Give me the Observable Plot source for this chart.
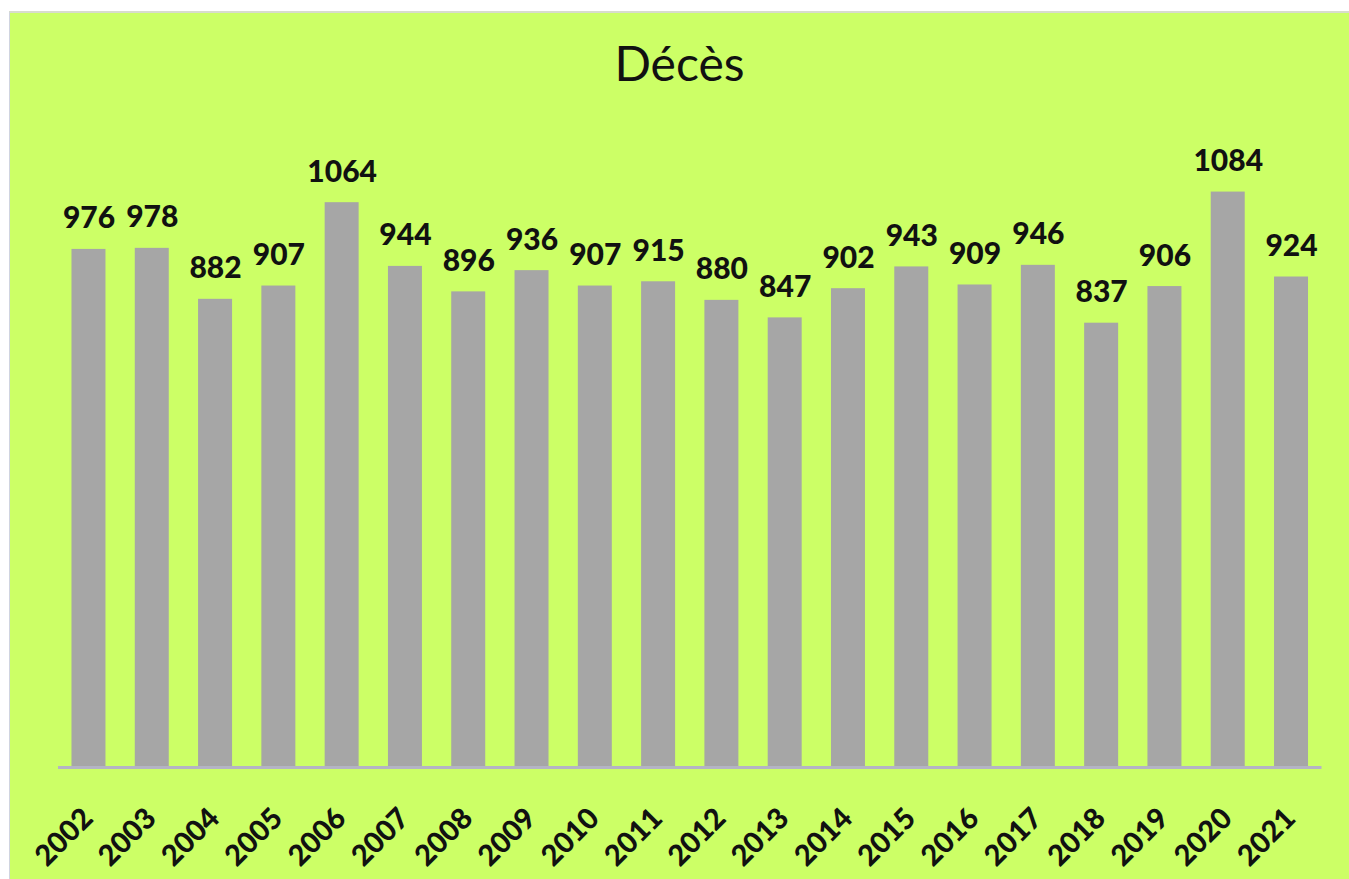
<!DOCTYPE html>
<html>
<head>
<meta charset="utf-8">
<script src="https://cdn.jsdelivr.net/npm/d3@7"></script>
<script src="https://cdn.jsdelivr.net/npm/@observablehq/plot@0.6"></script>
<style>
  html, body { margin: 0; padding: 0; background: #ffffff; width: 1349px; height: 879px; overflow: hidden; }
  #frame { position: absolute; left: 9px; top: 11px; width: 1340px; height: 868px; background: #ccff66; border-left: 1px solid #d0d4e0; border-top: 2px solid #d8dccc; box-sizing: border-box; }
  #title { height: 100px; line-height: 100px; text-align: center; font-family: Lato, sans-serif; font-size: 48px; color: #111; }
  #chart svg { display: block; background: transparent; }
</style>
</head>
<body>
<div id="frame">
  <div id="title">Décès</div>
  <div id="chart"></div>
</div>
<script>
const years = ["2002","2003","2004","2005","2006","2007","2008","2009","2010","2011","2012","2013","2014","2015","2016","2017","2018","2019","2020","2021"];
const deaths = [976, 978, 882, 907, 1064, 944, 896, 936, 907, 915, 880, 847, 902, 943, 909, 946, 837, 906, 1084, 924];

const data = years.map((y, i) => ({year: y, value: deaths[i]}));

const chart = Plot.plot({
  width: 1339,
  height: 766,
  marginLeft: 48,
  marginRight: 27.5,
  marginTop: 17,
  marginBottom: 112,
  style: {background: "transparent", fontFamily: "Lato, sans-serif", color: "#111"},
  x: {domain: years, paddingInner: 0.463, paddingOuter: 0.213, round: false, axis: null},
  y: {domain: [0, 1200], axis: null},
  marks: [
    Plot.barY(data, {x: "year", y: "value", fill: "#a6a6a6"}),
    Plot.ruleY([0], {stroke: "#b4b4c4", strokeWidth: 3}),
    Plot.text(data, {x: "year", y: "value", text: d => String(d.value), dy: -21, lineAnchor: "bottom", fontSize: 30, fontWeight: 900, fill: "#111"}),
    Plot.text(data, {x: "year", y: () => 0, text: "year", rotate: -45, textAnchor: "end", lineAnchor: "middle", dx: -1, dy: 46, fontSize: 29, fontWeight: 900, fill: "#111"})
  ]
});
document.getElementById("chart").appendChild(chart);
</script>
</body>
</html>
